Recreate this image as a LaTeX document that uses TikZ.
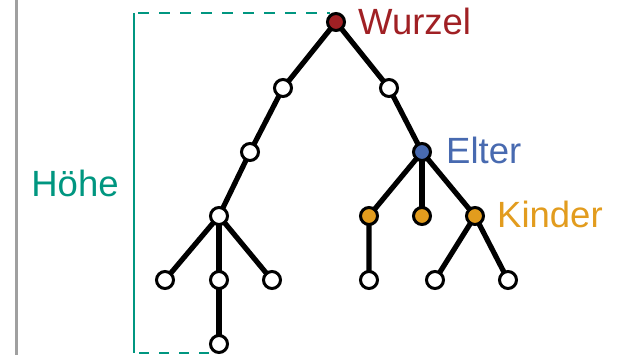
\documentclass[tikz,border=0pt]{standalone}
\usepackage{fontspec}
\setmainfont{Liberation Sans}
\definecolor{wred}{RGB}{160,32,36}
\definecolor{eblue}{RGB}{72,106,176}
\definecolor{korange}{RGB}{226,156,30}
\definecolor{hteal}{RGB}{0,150,128}
\definecolor{lgray}{RGB}{160,160,160}
\begin{document}
\begin{tikzpicture}[x=1pt,y=-1pt,
  vtx/.style={circle,draw=black,line width=3pt,fill=white,minimum size=17pt,inner sep=0pt},
  edge/.style={line width=5.2pt,black},
  lbl/.style={font=\fontsize{36.5}{40}\selectfont,anchor=base west,inner sep=0pt},
  brk/.style={hteal,line width=2.8pt}]
\useasboundingbox (0,0) rectangle (631,355);
\draw[lgray,line width=3pt] (16,0) -- (16,355);
% bracket
\coordinate (bt) at (134,13);
\coordinate (bb) at (134,353);
\coordinate (bte) at (330,13);
\coordinate (bbe) at (212,353);
\draw[brk] (bt) -- (bb);
\draw[brk,dash pattern=on 11pt off 10pt,dash phase=-4pt] (bt) -- (bte);
\draw[brk,dash pattern=on 10pt off 10pt,dash phase=-5pt] (bb) -- (bbe);
\node[hteal,lbl,anchor=base] (hoehe) at (75,197) {Höhe};
% nodes
\coordinate (pr) at (336,22);
\coordinate (pa) at (283,88);
\coordinate (pb) at (389,88);
\coordinate (pc) at (250,152);
\coordinate (pe) at (422,152);
\coordinate (pd) at (219,216);
\coordinate (pk1) at (369,216);
\coordinate (pk2) at (422,216);
\coordinate (pk3) at (475,216);
\coordinate (pf1) at (165,280);
\coordinate (pf2) at (219,280);
\coordinate (pf3) at (272,280);
\coordinate (pg1) at (369,280);
\coordinate (pg2) at (435,280);
\coordinate (pg3) at (508,280);
\coordinate (ph) at (219,344);
\draw[edge] (pr) -- (pa) -- (pc) -- (pd) -- (pf1);
\draw[edge] (pd) -- (pf2) -- (ph);
\draw[edge] (pd) -- (pf3);
\draw[edge] (pr) -- (pb) -- (pe) -- (pk1) -- (pg1);
\draw[edge] (pe) -- (pk2);
\draw[edge] (pe) -- (pk3) -- (pg2);
\draw[edge] (pk3) -- (pg3);
\node[vtx,fill=wred] (r) at (pr) {};
\node[vtx] (a) at (pa) {};
\node[vtx] (b) at (pb) {};
\node[vtx] (c) at (pc) {};
\node[vtx,fill=eblue] (e) at (pe) {};
\node[vtx] (d) at (pd) {};
\node[vtx,fill=korange] (k1) at (pk1) {};
\node[vtx,fill=korange] (k2) at (pk2) {};
\node[vtx,fill=korange] (k3) at (pk3) {};
\node[vtx] (f1) at (pf1) {};
\node[vtx] (f2) at (pf2) {};
\node[vtx] (f3) at (pf3) {};
\node[vtx] (g1) at (pg1) {};
\node[vtx] (g2) at (pg2) {};
\node[vtx] (g3) at (pg3) {};
\node[vtx] (h) at (ph) {};
\node[lbl,wred] (wl) at (358,35) {Wurzel};
\node[lbl,eblue] (el) at (446,164) {Elter};
\node[lbl,korange] (kl) at (497,228) {Kinder};
\end{tikzpicture}
\end{document}
